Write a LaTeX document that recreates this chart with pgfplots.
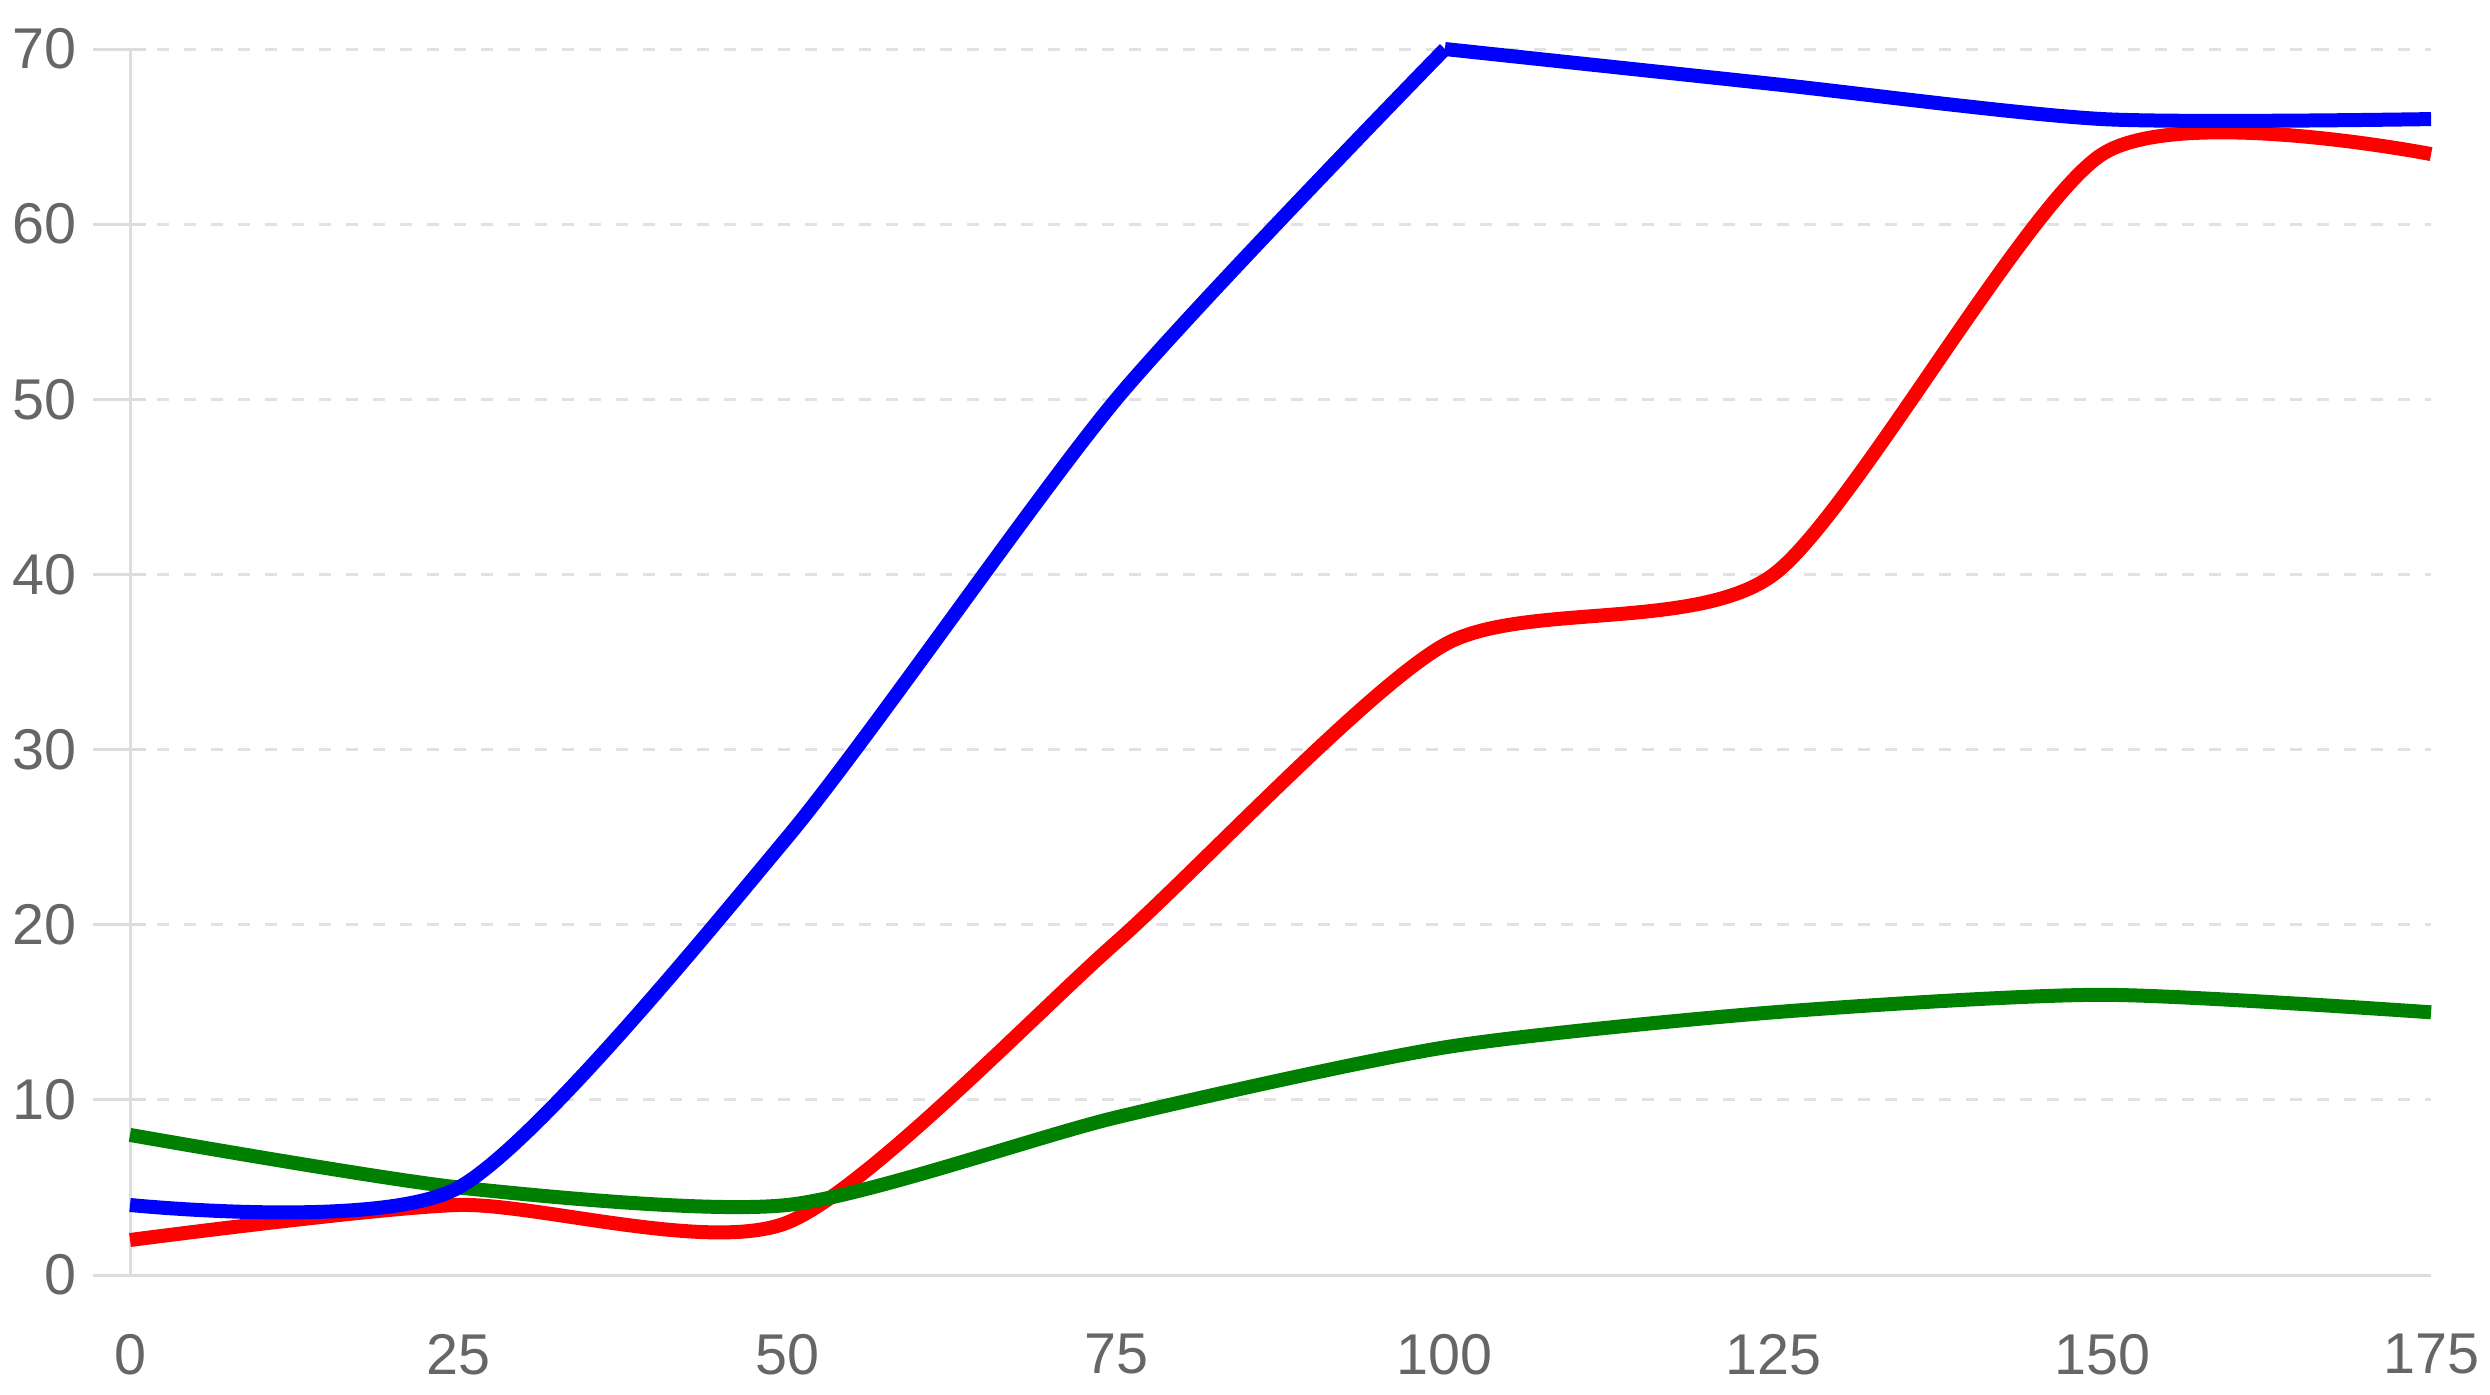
\documentclass[border=0pt]{standalone}
\usepackage{fontspec}
\setmainfont{Liberation Sans}
\usepackage{pgfplots}
\pgfplotsset{compat=1.18}

\definecolor{tickgray}{HTML}{666666}
\definecolor{gridgray}{HTML}{E2E2E2}
\definecolor{axisgray}{HTML}{DDDDDD}
\definecolor{cgreen}{HTML}{008000}

\begin{document}
\begin{tikzpicture}
\begin{axis}[
  scale only axis,
  width=460.2pt,
  height=245.2pt,
  xmin=0, xmax=175,
  ymin=0, ymax=70,
  xtick={0,25,50,75,100,125,150,175},
  ytick={0,10,20,30,40,50,60,70},
  axis x line*=bottom,
  axis y line*=left,
  axis line style={draw=axisgray, line width=0.6pt, -},
  ymajorgrids,
  major grid style={draw=gridgray, line width=0.6pt, dash pattern=on 2.4pt off 3pt},
  xtick style={draw=none},
  ytick style={draw=axisgray, line width=0.6pt, xshift=3.2pt},
  tick align=outside,
  major tick length=10.6pt,
  tick label style={font=\fontsize{11.5}{13}\selectfont, text=tickgray},
  yticklabel style={inner sep=0pt, anchor=east},
  xticklabel style={inner sep=0pt, anchor=north, yshift=-1pt},
  /pgf/number format/assume math mode=true,
  clip=false,
  every axis plot/.append style={line width=2.8pt, smooth, tension=0.42, line join=round},
]
\path (rel axis cs:-0.0565,-0.0971) rectangle (rel axis cs:1.0256,1.0400);

\addplot[color=red] coordinates {
  (0,2) (25,4) (50,3) (75,19) (100,36) (125,40) (150,64) (175,64)
};
\addplot[color=cgreen] coordinates {
  (0,8) (25,5) (50,4) (75,9) (100,13) (125,15) (150,16) (175,15)
};
% the peak at 100 is a sharp corner in the original
\addplot[color=blue] coordinates {
  (0,4) (25,5) (50,25) (75,50) (100,70)
};
\addplot[color=blue] coordinates {
  (100,70) (125,68) (150,66) (175,66)
};
\end{axis}
\end{tikzpicture}
\end{document}
